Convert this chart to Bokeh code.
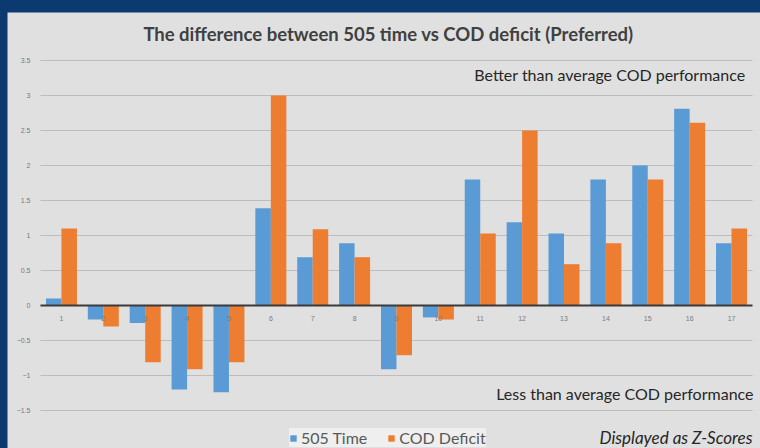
from bokeh.plotting import figure
from bokeh.models import (ColumnDataSource, Range1d, Label, Legend, LegendItem,
                          SingleIntervalTicker, FixedTicker, Column)
from bokeh.transform import dodge
from bokeh.embed import file_html
from bokeh.resources import INLINE

# ---- data ----
categories = [str(i) for i in range(1, 18)]
time_505 = [0.10, -0.20, -0.25, -1.20, -1.24, 1.39, 0.69, 0.89, -0.91, -0.17,
            1.80, 1.19, 1.03, 1.80, 2.00, 2.81, 0.89]
cod_deficit = [1.10, -0.30, -0.81, -0.91, -0.81, 3.00, 1.09, 0.69, -0.71, -0.20,
               1.03, 2.50, 0.59, 0.89, 1.80, 2.61, 1.10]
series_names = ["505 Time", "COD Deficit"]
y_min, y_max = -1.5, 3.5

title_text = "The difference between 505 time vs COD deficit (Preferred)"
note_top = "Better than average COD performance"
note_bottom = "Less than average COD performance"
note_scores = "Displayed as Z-Scores"

BLUE = "#5B9BD5"
ORANGE = "#ED7D31"
PANEL = "#e0e0e0"
FRAME_BLUE = "#0a3a6f"
FONT = "Lato"

idx = list(range(1, len(categories) + 1))
src = ColumnDataSource(dict(idx=idx, t505=time_505, cod=cod_deficit))

# frame covers the whole grey panel (753 x 436); ranges chosen so that the
# category band 0.5..17.5 and the value band -1.5..3.5 sit where the reference has them
p = figure(width=753, height=436,
           x_range=Range1d(-0.288, len(categories) + 0.692),
           y_range=Range1d(y_min - 38 / 70, y_max + 48 / 70),
           output_backend="svg", toolbar_location=None,
           min_border=0)
p.background_fill_color = PANEL
p.border_fill_color = PANEL
p.outline_line_color = None

r1 = p.vbar(x=dodge("idx", -0.185), top="t505", width=0.37, source=src,
            color=BLUE, line_color=None)
r2 = p.vbar(x=dodge("idx", 0.185), top="cod", width=0.37, source=src,
            color=ORANGE, line_color=None)

# y axis (inside the frame, at the left edge of the category band)
p.yaxis.fixed_location = 0.5
p.yaxis.bounds = (y_min, y_max)
p.yaxis.ticker = SingleIntervalTicker(interval=0.5)
p.yaxis.axis_line_color = None
p.yaxis.major_tick_line_color = None
p.yaxis.minor_tick_line_color = None
p.yaxis.major_label_text_font_size = "7px"
p.yaxis.major_label_text_color = "#7a7a7a"
p.yaxis.major_label_standoff = 4

# x axis at zero
p.xaxis.fixed_location = 0
p.xaxis.bounds = (0.5, len(categories) + 0.5)
p.xaxis.ticker = FixedTicker(ticks=idx)
p.xaxis.major_label_overrides = {i: c for i, c in zip(idx, categories)}
p.xaxis.axis_line_color = "#3a3a3a"
p.xaxis.axis_line_width = 2
p.xaxis.major_tick_line_color = None
p.xaxis.minor_tick_line_color = None
p.xaxis.major_label_text_font_size = "7px"
p.xaxis.major_label_text_color = "#7a7a7a"
p.xaxis.major_label_standoff = 4

p.xgrid.grid_line_color = None
p.ygrid.grid_line_color = "#bdbdbd"
p.ygrid.grid_line_width = 1
p.ygrid.cross_bounds = (0.5, len(categories) + 0.5)

# texts (screen units, from the frame's bottom-left corner)
p.add_layout(Label(x=381, y=415, x_units="screen", y_units="screen", text=title_text,
                   text_font=FONT, text_font_style="bold", text_font_size="18.5px",
                   text_color="#404040", text_align="center", text_baseline="middle"))
p.add_layout(Label(x=738, y=374, x_units="screen", y_units="screen", text=note_top,
                   text_font=FONT, text_font_size="16px", text_color="#262626",
                   text_align="right", text_baseline="middle"))
p.add_layout(Label(x=746, y=55, x_units="screen", y_units="screen", text=note_bottom,
                   text_font=FONT, text_font_size="16px", text_color="#262626",
                   text_align="right", text_baseline="middle"))
p.add_layout(Label(x=745, y=11, x_units="screen", y_units="screen", text=note_scores,
                   text_font=FONT, text_font_style="italic", text_font_size="17px",
                   text_color="#262626", text_align="right", text_baseline="middle"))

legend = Legend(items=[LegendItem(label=series_names[0], renderers=[r1]),
                       LegendItem(label=series_names[1], renderers=[r2])],
                location=(282, 1), orientation="horizontal",
                background_fill_color="#efefef", background_fill_alpha=1.0,
                border_line_color=None, label_text_font=FONT, label_text_font_size="16px",
                label_text_color="#595959", glyph_width=8, glyph_height=8,
                spacing=20, padding=9, margin=0, label_standoff=4)
p.add_layout(legend)

layout = Column(children=[p], width=760, height=448,
                styles={"background-color": FRAME_BLUE, "padding": "12px 0px 0px 7px"})

open("out.html", "w").write(file_html(layout, INLINE))
